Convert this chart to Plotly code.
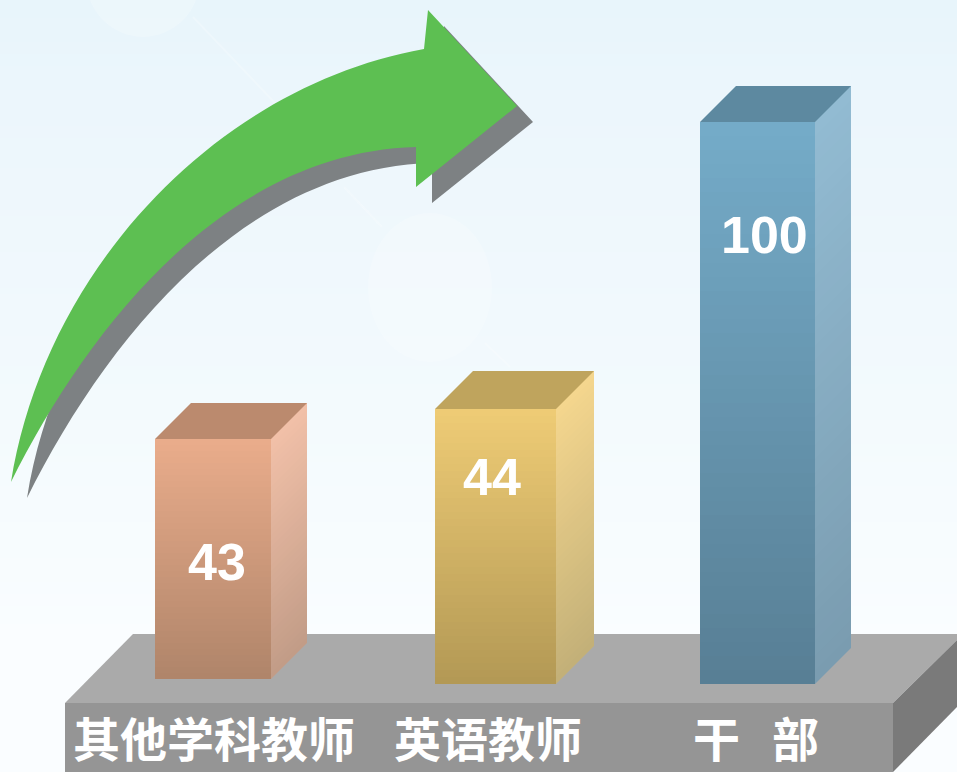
import numpy as np
import plotly.graph_objects as go

# ---- data ----
categories = ["其他学科教师", "英语教师", "干   部"]
value_labels = ["43", "44", "100"]
bar_heights = [240, 275, 562]          # drawn heights of the columns, axis units
bar_bases = [93, 88, 88]
bar_lefts = [155, 435, 700]
bar_widths = [116, 121, 115]
bar_depths = [36, 38, 36]
front_top = ["#e9ac8b", "#eecb75", "#74abc8"]
front_bottom = ["#b0856a", "#b39955", "#587f95"]
side_top = ["#f1c0a8", "#f4d68e", "#92bbd2"]
side_bottom = ["#c29c87", "#c3b078", "#7a9cb0"]
top_colors = ["#bb8a6e", "#bfa45d", "#5d89a0"]

arrow_upper = [(11, 482), (23, 430), (37, 390), (50, 353), (75, 300), (100, 263), (120, 237),
               (153, 198), (193, 163), (233, 133), (283, 100), (320, 80), (363, 62), (397, 53), (424, 49)]
arrow_head = [(428, 10), (517, 106), (416, 187)]
arrow_lower = [(416, 147), (387, 148), (347, 155), (313, 167), (283, 180), (260, 192), (228, 210),
               (177, 255), (133, 300), (100, 343), (67, 383), (50, 405), (27, 443), (11, 482)]

label_centers = [(214, 736), (488, 736), (756, 736)]
value_centers = [(217, 562), (492, 477), (764, 235)]

bg_stops = [(0, "#e8f5fb"), (100, "#ecf6fc"), (400, "#f3fafd"), (640, "#fafdff")]

W, H = 957, 772
N = 40


def yy(p):
    return H - p


def hex2rgb(c):
    return tuple(int(c[i:i + 2], 16) for i in (1, 3, 5))


def mix(a, b, t):
    ra, rb = hex2rgb(a), hex2rgb(b)
    return "rgb(%d,%d,%d)" % tuple(round(ra[i] + (rb[i] - ra[i]) * t) for i in range(3))


def poly(pts, color):
    d = "M " + " L ".join(f"{x},{yy(y)}" for x, y in pts) + " Z"
    return dict(type="path", path=d, xref="x", yref="y", fillcolor=color,
                line=dict(width=0), layer="below")


def bezier_fit(pts):
    p = np.array(pts, float)
    seg = np.hypot(*np.diff(p, axis=0).T)
    t = np.concatenate([[0], np.cumsum(seg)]) / seg.sum()
    for _ in range(3):
        a = 3 * (1 - t) ** 2 * t
        b = 3 * (1 - t) * t ** 2
        rhs = p - np.outer((1 - t) ** 3, p[0]) - np.outer(t ** 3, p[-1])
        ctrl, *_ = np.linalg.lstsq(np.column_stack([a, b]), rhs, rcond=None)
        tt = np.linspace(0, 1, 400)
        curve = (np.outer((1 - tt) ** 3, p[0]) + np.outer(3 * (1 - tt) ** 2 * tt, ctrl[0])
                 + np.outer(3 * (1 - tt) * tt ** 2, ctrl[1]) + np.outer(tt ** 3, p[-1]))
        t = np.array([tt[np.argmin(np.hypot(*(curve - q).T))] for q in p])
        t[0], t[-1] = 0, 1
    return ctrl


upper_ctrl = bezier_fit(arrow_upper)
lower_ctrl = bezier_fit(arrow_lower)


def cubic(ctrl, end, dx, dy):
    return (f"C {ctrl[0][0] + dx:.1f},{yy(ctrl[0][1] + dy):.1f} "
            f"{ctrl[1][0] + dx:.1f},{yy(ctrl[1][1] + dy):.1f} {end[0] + dx},{yy(end[1] + dy)}")


def arrow(dx, dy, color):
    s = arrow_upper[0]
    d = f"M {s[0] + dx},{yy(s[1] + dy)} " + cubic(upper_ctrl, arrow_upper[-1], dx, dy)
    for x, y in arrow_head:
        d += f" L {x + dx},{yy(y + dy)}"
    d += f" L {arrow_lower[0][0] + dx},{yy(arrow_lower[0][1] + dy)} " + cubic(lower_ctrl, arrow_lower[-1], dx, dy) + " Z"
    return dict(type="path", path=d, xref="x", yref="y", fillcolor=color, line=dict(width=0), layer="above")


fig = go.Figure()
shapes = []

# background gradient, drawn top down, each band running to the bottom edge
for p in range(0, H, 6):
    for (a, ca), (b, cb) in zip(bg_stops, bg_stops[1:]):
        if a <= p < b:
            col = mix(ca, cb, (p - a) / (b - a))
            break
    else:
        col = bg_stops[-1][1]
    shapes.append(dict(type="rect", xref="x", yref="y", x0=0, x1=W, y0=0, y1=yy(p),
                       fillcolor=col, line=dict(width=0), layer="below"))

# faint watermark
for (x0, y0, x1, y1) in [(368, 213, 492, 362), (86, -80, 200, 37)]:
    shapes.append(dict(type="circle", xref="x", yref="y", x0=x0, x1=x1, y0=yy(y0), y1=yy(y1),
                       fillcolor="rgba(255,255,255,0.2)", line=dict(width=0), layer="below"))
for (x0, y0, x1, y1) in [(193, 17, 275, 103), (344, 187, 382, 227), (485, 343, 510, 367)]:
    shapes.append(dict(type="line", xref="x", yref="y", x0=x0, x1=x1, y0=yy(y0), y1=yy(y1),
                       line=dict(color="rgba(255,255,255,0.22)", width=2), layer="below"))

# platform
shapes.append(poly([(133, 634), (W, 634), (W, 640), (893, 703), (65, 703)], "#aaaaaa"))
shapes.append(poly([(65, 703), (893, 703), (893, H), (65, H)], "#959595"))
shapes.append(poly([(893, 703), (W, 640), (W, 707), (893, H)], "#7a7a7a"))

# columns
for i in range(3):
    h, b, l, w, d = bar_heights[i], bar_bases[i], bar_lefts[i], bar_widths[i], bar_depths[i]
    # front face: overlapping bars, lowest band first, from the value height
    fig.add_trace(go.Bar(
        x=[l + w / 2] * N, width=[w] * N,
        base=[b + h * k / N for k in range(N)],
        y=[h * (1 - k / N) for k in range(N)],
        marker=dict(color=[mix(front_bottom[i], front_top[i], k / (N - 1)) for k in range(N)],
                    line=dict(width=0)),
        hoverinfo="skip", showlegend=False,
    ))
    r = l + w
    # right side, bottom band first (each band overlaps upward)
    for k in range(N):
        y0 = b + h * k / N
        pts = [(r, H - y0), (r + d, H - y0 - d), (r + d, H - (b + h) - d), (r, H - (b + h))]
        shapes.append(poly(pts, mix(side_bottom[i], side_top[i], k / (N - 1))))
    # top
    t = H - (b + h)
    shapes.append(poly([(l, t), (l + d, t - d), (r + d, t - d), (r, t)], top_colors[i]))

# arrow: shadow then body
shapes.append(arrow(16, 16, "#7d8183"))
shapes.append(arrow(0, 0, "#5dbf52"))

annotations = []
for txt, (cx, cy) in zip(categories, label_centers):
    annotations.append(dict(x=cx, y=yy(cy), xref="x", yref="y", text=txt, showarrow=False,
                            font=dict(family="Noto Sans CJK SC", size=47, color="white", weight=700)))
for txt, (cx, cy) in zip(value_labels, value_centers):
    annotations.append(dict(x=cx, y=yy(cy), xref="x", yref="y", text=txt, showarrow=False,
                            font=dict(family="Liberation Sans", size=52, color="white", weight=700)))

fig.update_layout(
    width=W, height=H, margin=dict(l=0, r=0, t=0, b=0), showlegend=False,
    barmode="overlay", bargap=0,
    plot_bgcolor="#f5fbfd", paper_bgcolor="#f5fbfd",
    xaxis=dict(range=[0, W], visible=False, fixedrange=True),
    yaxis=dict(range=[0, H], visible=False, fixedrange=True),
    shapes=shapes, annotations=annotations,
)

fig.write_html("out.html", config={"displayModeBar": False},
               post_script="document.body.style.margin='0';document.body.style.overflow='hidden';")
